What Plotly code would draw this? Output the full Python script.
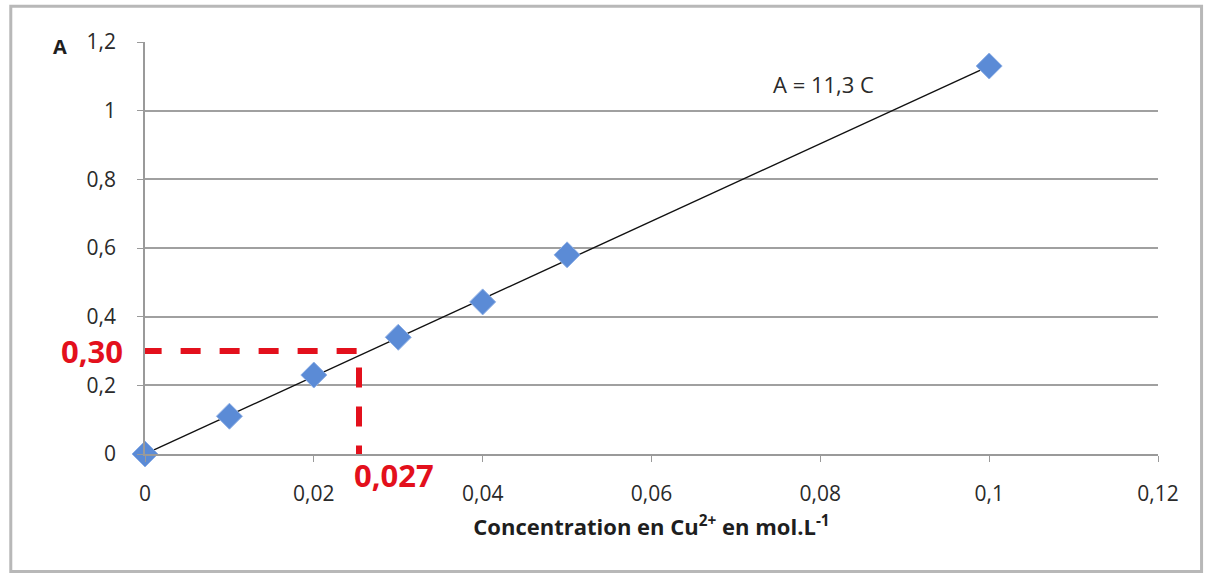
import plotly.graph_objects as go

# Data
conc = [0, 0.01, 0.02, 0.03, 0.04, 0.05, 0.1]
absorb = [0, 0.11, 0.23, 0.34, 0.443, 0.58, 1.13]
slope = 11.3
fit_x = [0, 0.1]
fit_y = [slope * v for v in fit_x]
read_A = 0.30
read_C = 0.02535  # position of the drawn reading line
read_A_label = "0,30"
read_C_label = "0,027"
x_ticks = [0, 0.02, 0.04, 0.06, 0.08, 0.1, 0.12]
y_ticks = [0, 0.2, 0.4, 0.6, 0.8, 1.0, 1.2]

FONT = "Open Sans"
RED = "#e3101c"
fig = go.Figure()

# red dashed reading lines
fig.add_trace(go.Scatter(x=[-0.0004, read_C, read_C], y=[read_A, read_A, -0.033],
                         mode="lines", line=dict(color=RED, width=6, dash="20px,19px"),
                         hoverinfo="skip", showlegend=False, cliponaxis=False))

fig.add_trace(go.Scatter(x=fit_x, y=fit_y, mode="lines",
                         line=dict(color="#111111", width=1.4), showlegend=False))

fig.add_trace(go.Scatter(x=conc, y=absorb, mode="markers",
                         marker=dict(symbol="diamond", size=20, color="#5b8bd6",
                                     line=dict(color="#8fb0e6", width=1)),
                         showlegend=False, cliponaxis=False))

fig.update_layout(
    width=1205, height=577,
    margin=dict(l=145, r=47, t=42, b=123),
    paper_bgcolor="white", plot_bgcolor="white",
    separators=", ",
    font=dict(family=FONT, size=21, color="#2a2a2a"),
    xaxis=dict(range=[0, 0.12], tickvals=x_ticks, showgrid=False, zeroline=False,
               showline=True, linecolor="#9a9a9a", linewidth=1.5,
               ticks="outside", ticklen=6, tickcolor="#9a9a9a",
               ticklabelstandoff=14,
               title=dict(text="<b>Concentration en Cu<sup>2+</sup> en mol.L<sup>-1</sup></b>",
                          font=dict(size=22, color="#1e1e1e"), standoff=14)),
    yaxis=dict(range=[0, 1.2], tickvals=y_ticks, showgrid=True, gridcolor="#a0a0a0",
               gridwidth=1.6, zeroline=False, showline=True, linecolor="#9a9a9a",
               linewidth=1.5, ticks="outside", ticklen=6, tickcolor="#9a9a9a",
               ticklabelstandoff=17),
    shapes=[dict(type="rect", xref="paper", yref="paper", x0=-0.1325, x1=1.043,
                 y0=-0.285, y1=1.087, line=dict(color="#b8b8b8", width=3))],
    annotations=[
        dict(text="<b>A</b>", x=-0.0839, y=0.99, xref="paper", yref="paper",
             xanchor="center", yanchor="middle",
             showarrow=False, font=dict(size=20, color="#1e1e1e")),
        dict(text="A = 11,3 C", x=0.0804, y=1.078, xref="x", yref="y",
             xanchor="center", yanchor="middle",
             showarrow=False, font=dict(size=22, color="#2a2a2a")),
        dict(text="<b>" + read_A_label + "</b>", x=-0.0197, y=read_A / 1.2,
             xref="paper", yref="paper", xanchor="right", yanchor="middle",
             showarrow=False, font=dict(size=31, color=RED)),
        dict(text="<b>" + read_C_label + "</b>", x=0.2043, y=-0.051,
             xref="paper", yref="paper", xanchor="left", yanchor="middle",
             showarrow=False, font=dict(size=31, color=RED)),
    ],
)

fig.write_html("out.html")
